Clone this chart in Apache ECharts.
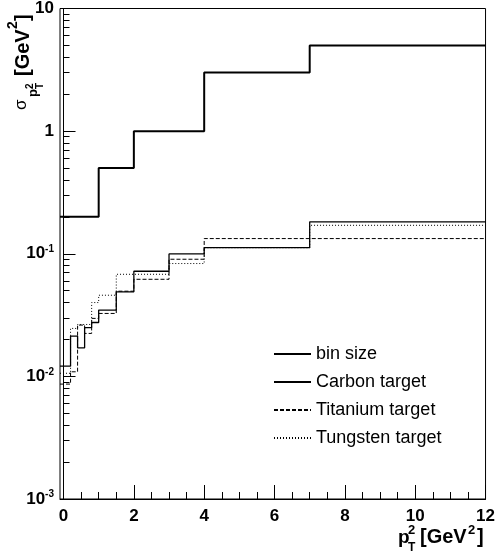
<!DOCTYPE html>
<html><head><meta charset="utf-8">
<script src="https://cdn.jsdelivr.net/npm/echarts@6/dist/echarts.min.js"></script>
<style>html,body{margin:0;padding:0;background:#fff}#c{width:498px;height:558px}</style>
</head><body><div id="c"></div>
<script>
// ---- data ----
const binEdges = [0, 0.2, 0.4, 0.6, 0.8, 1.0, 1.5, 2, 3, 4, 7, 12];
const binSize  = [0.2, 0.2, 0.2, 0.2, 0.2, 0.5, 0.5, 1, 1, 3, 5];
const carbon   = [0.0121, 0.0213, 0.0171, 0.025, 0.0275, 0.0347, 0.0489, 0.072, 0.0996, 0.112, 0.182];
const titanium = [0.00865, 0.0109, 0.0262, 0.0224, 0.0297, 0.0326, 0.0495, 0.0619, 0.0902, 0.133, 0.133];
const tungsten = [0.0106, 0.0246, 0.0265, 0.0265, 0.040, 0.0459, 0.068, 0.068, 0.0832, 0.112, 0.1706];
const seriesNames = ['bin size', 'Carbon target', 'Titanium target', 'Tungsten target'];
const xMajorTicks = [0, 2, 4, 6, 8, 10, 12];
const xMinorTicks = [0.5, 1, 1.5, 2.5, 3, 3.5, 4.5, 5, 5.5, 6.5, 7, 7.5, 8.5, 9, 9.5, 10.5, 11, 11.5];
const yMajorTicks = [0.001, 0.01, 0.1, 1, 10];
const yMinorTicks = [];
[0.001, 0.01, 0.1, 1].forEach(d => { for (let k = 2; k <= 9; k++) yMinorTicks.push(+(k * d).toPrecision(3)); });
const X_MIN = -0.1, X_MAX = 12;

function steps(vals) {
  const pts = vals.map((v, i) => [i === 0 ? X_MIN : binEdges[i], v]);
  pts.push([binEdges[binEdges.length - 1], vals[vals.length - 1]]);
  return pts;
}

const FONT = 'Liberation Sans, Arial, Helvetica, sans-serif';
const chart = echarts.init(document.getElementById('c'), null, {renderer: 'canvas'});

function lineSeries(name, vals, width, type) {
  return {
    name, type: 'line', step: 'end', data: steps(vals), symbol: 'none',
    xAxisIndex: 0, yAxisIndex: 0, silent: true,
    itemStyle: {color: '#000'},
    lineStyle: {color: '#000', width, type}
  };
}

function txt(text, x, y, size, weight) {
  return {
    type: 'text', x, y, silent: true,
    style: {text, font: weight + ' ' + size + 'px ' + FONT, fill: '#000',
      textAlign: 'left', textVerticalAlign: 'top', align: 'left', verticalAlign: 'top'}
  };
}

const option = {
  animation: false,
  backgroundColor: '#fff',
  grid: {left: 60, top: 8, width: 426, height: 491, show: true, borderColor: '#000', borderWidth: 1, containLabel: false},
  xAxis: [
    {type: 'value', min: X_MIN, max: X_MAX, position: 'bottom',
     axisLine: {show: true, lineStyle: {color: '#000', width: 1}},
     axisTick: {show: true, inside: true, length: 14, customValues: xMajorTicks, lineStyle: {color: '#000'}},
     axisLabel: {show: true, customValues: xMajorTicks, margin: 9, color: '#000', fontFamily: FONT, fontWeight: 'bold', fontSize: 17},
     splitLine: {show: false}},
    {type: 'value', min: X_MIN, max: X_MAX, position: 'bottom',
     axisLine: {show: false},
     axisTick: {show: true, inside: true, length: 7, customValues: xMinorTicks, lineStyle: {color: '#000'}},
     axisLabel: {show: false}, splitLine: {show: false}}
  ],
  yAxis: [
    {type: 'log', min: 0.001, max: 10, logBase: 10, position: 'left',
     axisLine: {show: true, lineStyle: {color: '#000', width: 1}},
     axisTick: {show: true, inside: true, length: 12, customValues: yMajorTicks, lineStyle: {color: '#000'}},
     axisLabel: {show: true, customValues: yMajorTicks, margin: 6, color: '#000', fontFamily: FONT,
       formatter: v => {
         const e = Math.round(Math.log10(v));
         if (e === 0) return '{b|1}';
         if (e === 1) return '{b|10}';
         return '{b|10}{s|' + e + '}';
       },
       rich: {
         b: {fontFamily: FONT, fontWeight: 'bold', fontSize: 17, color: '#000'},
         s: {fontFamily: FONT, fontWeight: 'bold', fontSize: 10, color: '#000', padding: [0, 0, 9, 0]}
       }},
     splitLine: {show: false}},
    {type: 'log', min: 0.001, max: 10, logBase: 10, position: 'left',
     axisLine: {show: false},
     axisTick: {show: true, inside: true, length: 6, customValues: yMinorTicks, lineStyle: {color: '#000'}},
     axisLabel: {show: false}, splitLine: {show: false}}
  ],
  legend: {
    orient: 'vertical', left: 273, top: 345, padding: 0, itemWidth: 37, itemHeight: 14, itemGap: 10,
    data: seriesNames,
    itemStyle: {opacity: 0},
    textStyle: {fontFamily: FONT, fontSize: 18, color: '#000'},
    selectedMode: false
  },
  series: [
    lineSeries(seriesNames[0], binSize, 2, 'solid'),
    lineSeries(seriesNames[1], carbon, 1.3, 'solid'),
    lineSeries(seriesNames[2], titanium, 1, [4, 2]),
    lineSeries(seriesNames[3], tungsten, 1, [1, 2])
  ],
  graphic: [
    // x axis title: p_T^2 [GeV^2]
    txt('p', 398, 528, 19, 'bold'),
    txt('T', 408, 542, 12, 'bold'),
    txt('2', 408, 524, 13, 'bold'),
    txt('[GeV', 420, 527, 20, 'bold'),
    txt('2', 468, 524, 13, 'bold'),
    txt(']', 477, 527, 20, 'bold'),
    // y axis title: sigma_{p_T^2} [GeV^2], rotated to read bottom-to-top
    {type: 'group', x: 13, y: 110, rotation: Math.PI / 2, silent: true, children: [
      txt('\u03c3', 0, 0, 17, 'normal'),
      txt('p', 13, 14, 13, 'bold'),
      txt('T', 21, 22, 10, 'bold'),
      txt('2', 21, 12, 10, 'bold'),
      txt('[GeV', 34, 0, 20, 'bold'),
      txt('2', 81, -7, 14, 'bold'),
      txt(']', 89, 0, 20, 'bold')
    ]}
  ]
};
chart.setOption(option);
</script>
</body></html>
